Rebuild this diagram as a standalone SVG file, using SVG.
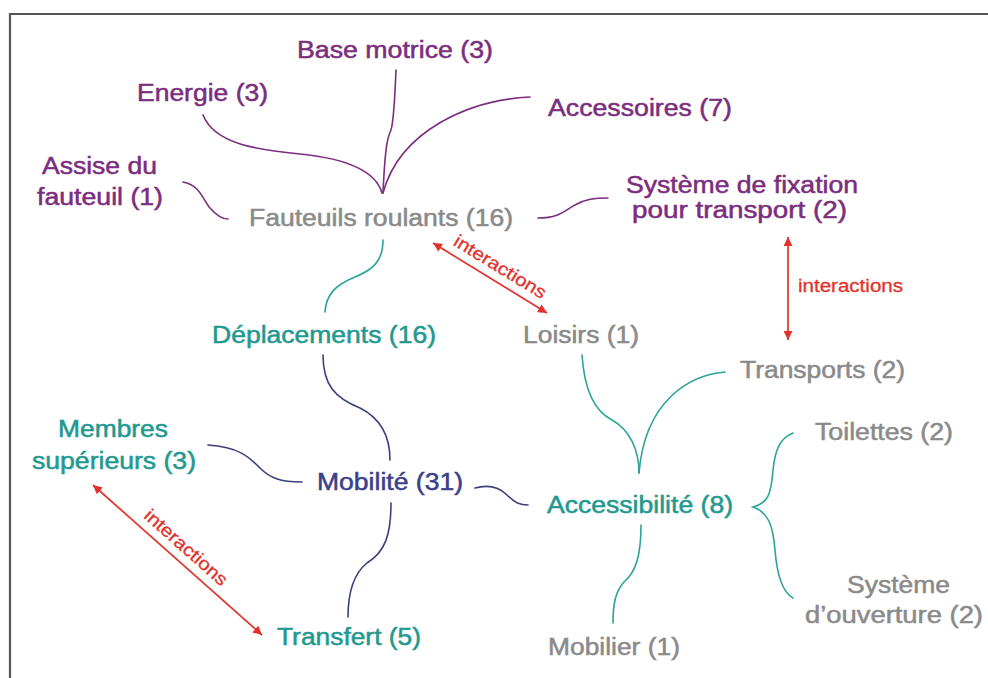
<svg xmlns="http://www.w3.org/2000/svg" width="988" height="678" viewBox="0 0 988 678">
<defs>
<style>
text{font-family:"Liberation Sans",Arial,sans-serif;font-size:23px;stroke-width:0.5px}
.pu{fill:#7b2d7e;stroke:#7b2d7e}.gr{fill:#8a8a8a;stroke:#8a8a8a}.te{fill:#21998f;stroke:#21998f}.bl{fill:#3b3f8c;stroke:#3b3f8c}
.ia{fill:#e2322b;stroke:#e2322b;stroke-width:0.3px;font-size:18px}
.c{fill:none;stroke-width:1.6;stroke-linecap:round}
.cp{stroke:#7b2d7e}.ct{stroke:#2aa39a}.cb{stroke:#3b3f7c}
.ar{fill:none;stroke:#e2322b;stroke-width:1.7;marker-start:url(#ah);marker-end:url(#ah)}
</style>
<marker id="ah" viewBox="0 0 10 10" refX="10" refY="5" markerWidth="11" markerHeight="9" markerUnits="userSpaceOnUse" orient="auto-start-reverse">
<path d="M0,0 L10,5 L0,10 z" fill="#e2322b"/>
</marker>
</defs>
<rect width="988" height="678" fill="#fff"/>
<path d="M10,678 V14 H988" fill="none" stroke="#555" stroke-width="2.2"/>

<g id="connectors">
<path class="c cp" d="M183,182 C200,185 203,200 210,208 C216,215 221,219 228,219"/>
<path class="c cp" d="M203,115 C215,145 260,150 300,154 C340,158 375,168 382,193"/>
<path class="c cp" d="M396,70 C395,95 394,120 391,130 C387,138 385,150 383,193"/>
<path class="c cp" d="M530,97 C470,100 400,130 383,193"/>
<path class="c cp" d="M538,218 C560,218 565,210 575,205 C585,199 595,198 608,198"/>
<path class="c ct" d="M383,240 C383,262 372,270 355,277 C335,285 326,295 325,312"/>
<path class="c cb" d="M323,355 C323,385 335,398 360,408 C380,418 390,435 390,460"/>
<path class="c cb" d="M208,445 C240,447 250,458 260,468 C270,478 280,482 302,482"/>
<path class="c cb" d="M391,503 C391,535 385,552 367,563 C352,575 348,595 348,617"/>
<path class="c cb" d="M475,488 C490,484 500,488 507,495 C515,503 520,505 528,505"/>
<path class="c ct" d="M582,355 C584,385 592,410 612,420 C630,430 639,450 639,473"/>
<path class="c ct" d="M725,372 C690,375 645,400 639,473"/>
<path class="c ct" d="M641,525 C641,555 636,572 624,582 C615,592 613,605 613,623"/>
<path class="c ct" d="M793,433 C780,438 775,450 773,470 C771,495 768,503 753,507 C768,512 773,525 775,550 C777,575 782,592 793,598"/>
<path class="ar" d="M433,243 L547,313"/>
<path class="ar" d="M788,237 L788,340"/>
<path class="ar" d="M93,485 L262,635"/>
</g>

<g id="ia1"><text class="ia" transform="translate(497,272) rotate(31.5)" text-anchor="middle" textLength="105" lengthAdjust="spacingAndGlyphs">interactions</text></g>
<g id="ia2"><text class="ia" x="798" y="292" textLength="105" lengthAdjust="spacingAndGlyphs">interactions</text></g>
<g id="ia3"><text class="ia" transform="translate(182,552) rotate(41.6)" text-anchor="middle" textLength="105" lengthAdjust="spacingAndGlyphs">interactions</text></g>

<g id="base-motrice"><text class="pu" x="297" y="58" textLength="196" lengthAdjust="spacingAndGlyphs">Base motrice (3)</text></g>
<g id="energie"><text class="pu" x="137" y="101" textLength="131" lengthAdjust="spacingAndGlyphs">Energie (3)</text></g>
<g id="accessoires"><text class="pu" x="548" y="116" textLength="184" lengthAdjust="spacingAndGlyphs">Accessoires (7)</text></g>
<g id="assise"><text class="pu" x="42" y="174" textLength="115" lengthAdjust="spacingAndGlyphs">Assise du</text><text class="pu" x="37" y="205" textLength="126" lengthAdjust="spacingAndGlyphs">fauteuil (1)</text></g>
<g id="fauteuils"><text class="gr" x="249" y="226" textLength="264" lengthAdjust="spacingAndGlyphs">Fauteuils roulants (16)</text></g>
<g id="fixation"><text class="pu" x="626" y="193" textLength="232" lengthAdjust="spacingAndGlyphs">Système de fixation</text><text class="pu" x="632" y="218" textLength="215" lengthAdjust="spacingAndGlyphs">pour transport (2)</text></g>
<g id="deplacements"><text class="te" x="212" y="343" textLength="224" lengthAdjust="spacingAndGlyphs">Déplacements (16)</text></g>
<g id="loisirs"><text class="gr" x="523" y="343" textLength="116" lengthAdjust="spacingAndGlyphs">Loisirs (1)</text></g>
<g id="transports"><text class="gr" x="740" y="378" textLength="165" lengthAdjust="spacingAndGlyphs">Transports (2)</text></g>
<g id="membres"><text class="te" x="58" y="437" textLength="110" lengthAdjust="spacingAndGlyphs">Membres</text><text class="te" x="32" y="469" textLength="164" lengthAdjust="spacingAndGlyphs">supérieurs (3)</text></g>
<g id="mobilite"><text class="bl" x="317" y="490" textLength="146" lengthAdjust="spacingAndGlyphs">Mobilité (31)</text></g>
<g id="toilettes"><text class="gr" x="815" y="440" textLength="138" lengthAdjust="spacingAndGlyphs">Toilettes (2)</text></g>
<g id="accessibilite"><text class="te" x="547" y="513" textLength="186" lengthAdjust="spacingAndGlyphs">Accessibilité (8)</text></g>
<g id="ouverture"><text class="gr" x="847" y="593" textLength="103" lengthAdjust="spacingAndGlyphs">Système</text><text class="gr" x="805" y="623" textLength="178" lengthAdjust="spacingAndGlyphs">d’ouverture (2)</text></g>
<g id="transfert"><text class="te" x="277" y="645" textLength="144" lengthAdjust="spacingAndGlyphs">Transfert (5)</text></g>
<g id="mobilier"><text class="gr" x="548" y="655" textLength="132" lengthAdjust="spacingAndGlyphs">Mobilier (1)</text></g>
</svg>
